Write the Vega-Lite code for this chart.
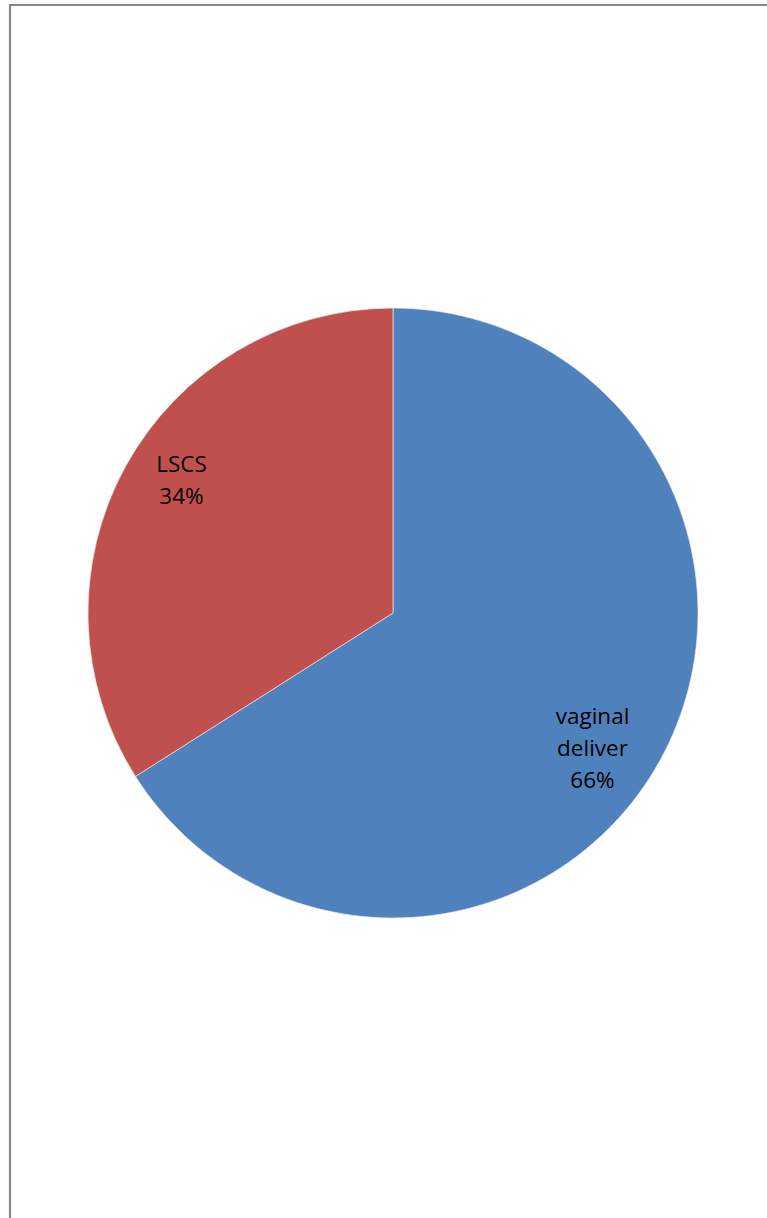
{
  "$schema": "https://vega.github.io/schema/vega-lite/v6.json",
  "width": 766,
  "height": 1216,
  "autosize": {"type": "none"},
  "padding": {"left": 10, "top": 5, "right": 0, "bottom": 0},
  "background": "white",
  "view": {"stroke": "#868686", "strokeWidth": 2.2},
  "data": {
    "values": [
      {"category": "vaginal deliver", "value": 66, "rank": 1, "label": "vaginal\ndeliver\n66%"},
      {"category": "LSCS", "value": 34, "rank": 2, "label": "LSCS\n34%"}
    ]
  },
  "encoding": {
    "theta": {"field": "value", "type": "quantitative", "stack": true},
    "order": {"field": "rank", "type": "quantitative"}
  },
  "layer": [
    {
      "mark": {"type": "arc", "outerRadius": 305, "stroke": "#e8e8e8", "strokeWidth": 0.7},
      "encoding": {
        "color": {
          "field": "category",
          "type": "nominal",
          "scale": {"domain": ["vaginal deliver", "LSCS"], "range": ["#4F81BD", "#C0504D"]},
          "legend": null
        }
      }
    },
    {
      "mark": {"type": "text", "radius": 241, "thetaOffset": 0.047, "dx": -6, "dy": -22, "fontSize": 22.5, "font": "Open Sans", "lineBreak": "\n", "lineHeight": 32, "color": "#000000", "align": "center", "baseline": "middle"},
      "encoding": {
        "text": {"field": "label", "type": "nominal"}
      }
    }
  ]
}
